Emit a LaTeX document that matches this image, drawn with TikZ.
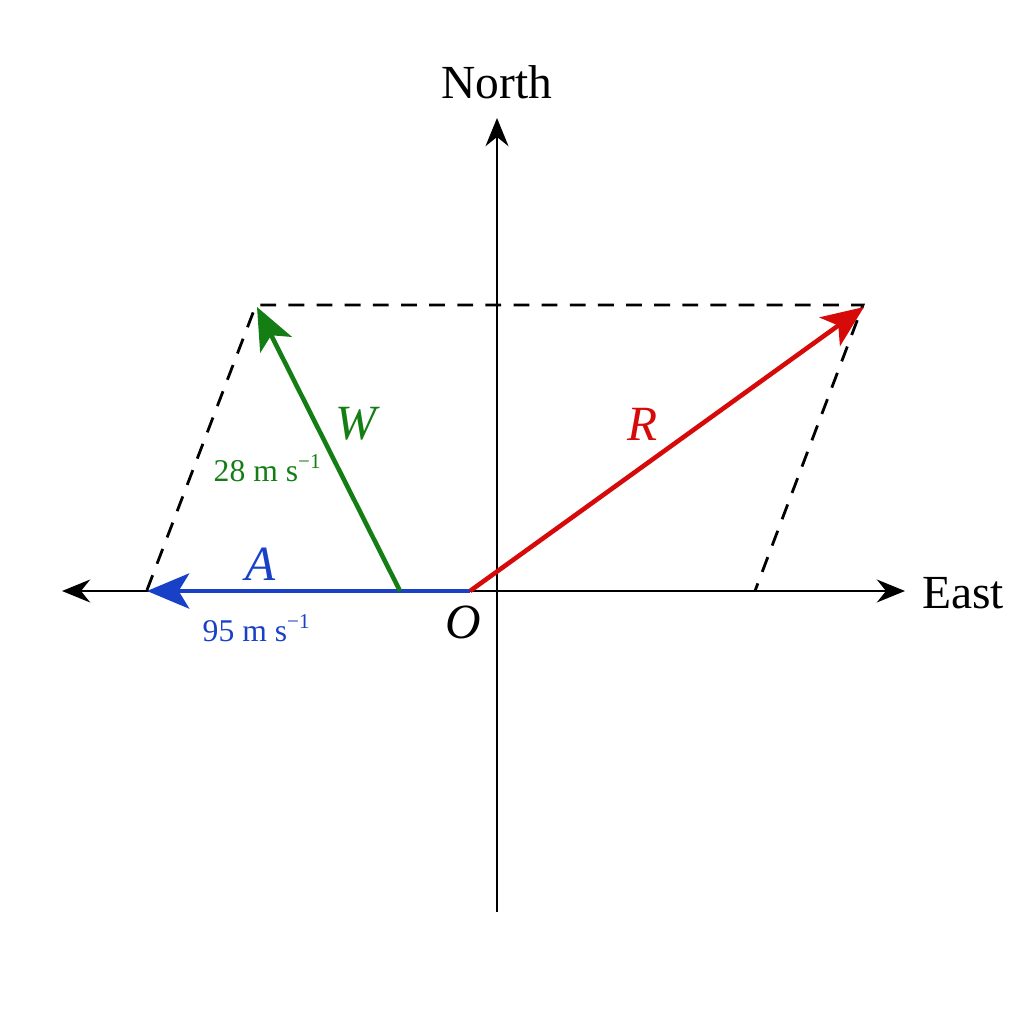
\documentclass[tikz,border=0pt]{standalone}
\usepackage{fontspec}
\setmainfont{Liberation Serif}
\usetikzlibrary{arrows.meta}
\definecolor{vgreen}{RGB}{20,125,20}
\definecolor{vblue}{RGB}{25,65,200}
\definecolor{vred}{RGB}{215,10,10}
\begin{document}
\begin{tikzpicture}[x=0.01cm,y=-0.01cm,
  axis/.style={line width=0.8pt,-{Stealth[length=8pt,width=6.5pt]}},
  vec/.style={line width=1.3pt,-{Stealth[length=12pt,width=10pt,inset=3pt]}},
  guide/.style={line width=0.8pt,dashed,dash pattern=on 4.5pt off 3.5pt},
  lbl/.style={font=\fontsize{13.5}{16}\selectfont},
  vlbl/.style={font=\fontsize{14}{16}\selectfont\itshape},
  mag/.style={font=\fontsize{9}{11}\selectfont}]
\useasboundingbox (0,0) rectangle (1024,1024);
% points
\coordinate (O) at (470,591);
\coordinate (Xc) at (497,591);
\coordinate (Wl) at (62,591);
\coordinate (Ea) at (905,591);
\coordinate (So) at (497,912);
\coordinate (No) at (497,118);
\coordinate (Atip) at (147,591);
\coordinate (Wst) at (400,591);
\coordinate (Wtip) at (257,307);
\coordinate (Rtip) at (864,307);
\coordinate (Dl) at (147,590);
\coordinate (Dtl) at (256,305);
\coordinate (Dtr) at (863,305);
\coordinate (Dbr) at (755,591);
% dashed parallelogram
\draw[guide] (Dl) -- (Dtl) -- (Dtr) -- (Dbr);
% axes
\draw[axis] (Xc) -- (Ea);
\draw[axis] (Xc) -- (Wl);
\draw[axis] (So) -- (No);
\node[lbl] (north) at (497,82) {North};
\node[lbl] (east) at (963,593) {East};
% vectors
\draw[vec,vblue] (O) -- (Atip);
\draw[vec,vgreen] (Wst) -- (Wtip);
\draw[vec,vred] (O) -- (Rtip);
% labels
\node[vlbl,text=vblue] (la) at (261,564) {A};
\node[mag,text=vblue] (ma) at (257,628) {95 m s\textsuperscript{−1}};
\node[vlbl,text=vgreen] (lw) at (356,424) {W};
\node[mag,text=vgreen] (mw) at (268,468) {28 m s\textsuperscript{−1}};
\node[vlbl,text=vred] (lr) at (643,424) {R};
\node[vlbl] (lo) at (463,622) {O};
\end{tikzpicture}
\end{document}
